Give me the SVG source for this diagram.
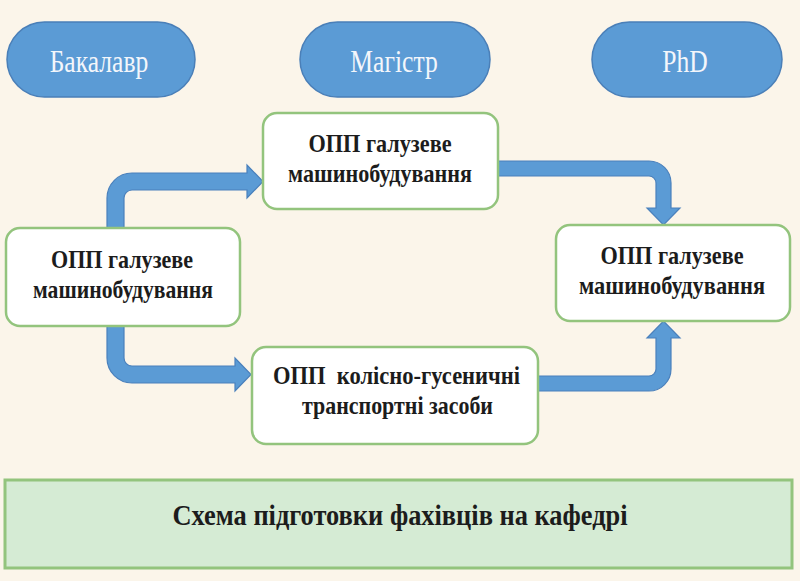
<svg xmlns="http://www.w3.org/2000/svg" width="800" height="581" viewBox="0 0 800 581">
<defs>
<style>
.pill{fill:#5b9bd5;stroke:#4a7fb8;stroke-width:1.5}
text{font-family:'Liberation Serif','Times New Roman','DejaVu Serif',serif}
.ptxt{font-size:32px;fill:#f3f6fb;text-anchor:middle}
.box{fill:#ffffff;stroke:#93c47d;stroke-width:2.5}
.btxt{font-size:26px;font-weight:bold;fill:#1c1c1c;text-anchor:middle;white-space:pre}
.band{fill:#d5ebd4;stroke:#93c47d;stroke-width:3}
.arr{fill:#5b9bd5;stroke:#4a80bc;stroke-width:1.2;stroke-linejoin:miter}
</style>
</defs>
<rect x="0" y="0" width="800" height="581" fill="#fbf5ea"/>

<g id="bakalavr">
<rect class="pill" x="7" y="22" width="188" height="75" rx="37.5"/>
<text class="ptxt" x="99" y="72" transform="translate(99 0) scale(0.8 1) translate(-99 0)">Бакалавр</text>
</g>
<g id="magistr">
<rect class="pill" x="300" y="22" width="190" height="75" rx="37.5"/>
<text class="ptxt" x="394" y="72" transform="translate(394 0) scale(0.8 1) translate(-394 0)">Магістр</text>
</g>
<g id="phd">
<rect class="pill" x="592" y="22" width="190" height="75" rx="37.5"/>
<text class="ptxt" x="685" y="72" transform="translate(685 0) scale(0.8 1) translate(-685 0)">PhD</text>
</g>

<g id="connectors">
<path class="arr" d="M107,228 L107,198 A25,25 0 0 1 132,173 L247,173 L247,165 L263,181.5 L247,198 L247,190 L132,190 A8,8 0 0 0 124,198 L124,228 Z"/>
<path class="arr" d="M107,326 L107,358 A25,25 0 0 0 132,383 L235,383 L235,391 L251,374.5 L235,358 L235,366 L132,366 A8,8 0 0 1 124,358 L124,326 Z"/>
<path class="arr" d="M498,161 L649,161 A22,22 0 0 1 671,183 L671,208 L680,208 L663.5,225 L647,208 L656,208 L656,183 A7,7 0 0 0 649,176 L498,176 Z"/>
<path class="arr" d="M538,391 L649,391 A22,22 0 0 0 671,369 L671,338 L680,338 L663.5,321 L647,338 L656,338 L656,369 A7,7 0 0 1 649,376 L538,376 Z"/>
</g>

<g id="bachelor-opp">
<rect class="box" x="6" y="228" width="234" height="98" rx="14"/>
<text class="btxt" x="122" y="268" textLength="142" lengthAdjust="spacingAndGlyphs">ОПП галузеве</text>
<text class="btxt" x="123" y="298" textLength="180" lengthAdjust="spacingAndGlyphs">машинобудування</text>
</g>
<g id="master-opp-1">
<rect class="box" x="263" y="113" width="235" height="96" rx="14"/>
<text class="btxt" x="380" y="152" textLength="143" lengthAdjust="spacingAndGlyphs">ОПП галузеве</text>
<text class="btxt" x="380" y="182" textLength="184" lengthAdjust="spacingAndGlyphs">машинобудування</text>
</g>
<g id="master-opp-2">
<rect class="box" x="252" y="347" width="286" height="97" rx="14"/>
<text class="btxt" x="396.5" y="384" textLength="247" lengthAdjust="spacingAndGlyphs">ОПП  колісно-гусеничні</text>
<text class="btxt" x="397.5" y="414" textLength="191" lengthAdjust="spacingAndGlyphs">транспортні засоби</text>
</g>
<g id="phd-opp">
<rect class="box" x="556" y="225" width="234" height="96" rx="14"/>
<text class="btxt" x="672" y="264" textLength="143" lengthAdjust="spacingAndGlyphs">ОПП галузеве</text>
<text class="btxt" x="672" y="294" textLength="186" lengthAdjust="spacingAndGlyphs">машинобудування</text>
</g>

<g id="caption">
<rect class="band" x="5" y="480" width="787" height="88"/>
<text class="btxt" x="400" y="525" style="font-size:29px" textLength="455" lengthAdjust="spacingAndGlyphs">Схема підготовки фахівців на кафедрі</text>
</g>
</svg>
